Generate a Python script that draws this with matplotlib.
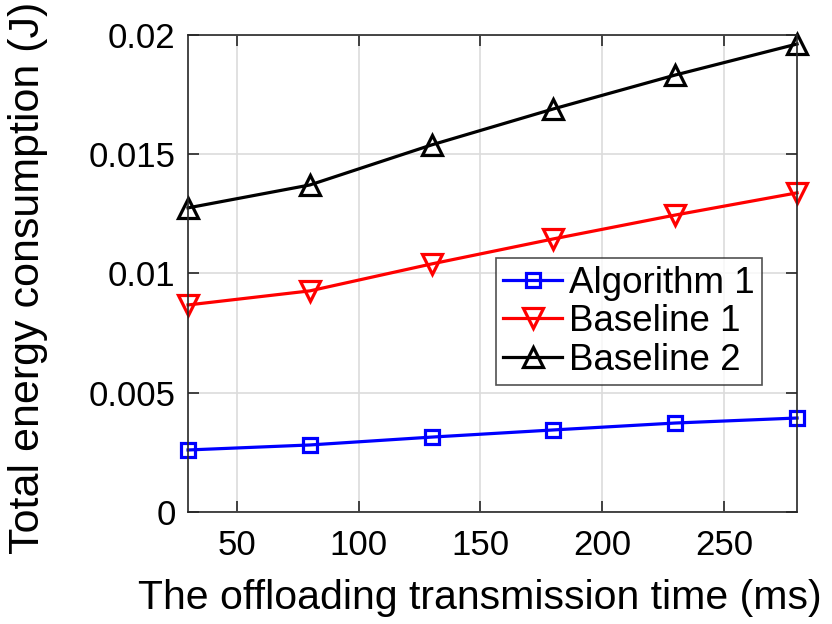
import matplotlib
matplotlib.use('Agg')
import matplotlib.pyplot as plt

plt.rcParams['font.family'] = ['Liberation Sans', 'DejaVu Sans']

x = [30, 80, 130, 180, 230, 280]
alg1 = [0.00260, 0.00281, 0.00314, 0.00344, 0.00373, 0.00394]
base1 = [0.00868, 0.00927, 0.01040, 0.01145, 0.01245, 0.01338]
base2 = [0.01275, 0.01371, 0.01539, 0.01690, 0.01832, 0.01962]

fig = plt.figure(figsize=(8.32, 6.24), dpi=100)
ax = fig.add_axes([0.226, 0.1795, 0.732, 0.7645])

style = dict(markerfacecolor='none', markeredgewidth=2.3, linewidth=2.3, clip_on=False)
ax.plot(x, alg1, color='#0000ff', marker='s', markersize=10.5, label='Algorithm 1', **style)
ax.plot(x, base1, color='#ff0000', marker='v', markersize=15, label='Baseline 1', **style)
ax.plot(x, base2, color='black', marker='^', markersize=15, label='Baseline 2', **style)

ax.set_xlim(30, 280)
ax.set_ylim(0, 0.02)
ax.set_xticks([50, 100, 150, 200, 250])
ax.set_yticks([0, 0.005, 0.01, 0.015, 0.02])
ax.set_yticklabels(['0', '0.005', '0.01', '0.015', '0.02'])
ax.tick_params(direction='in', top=True, right=True, labelsize=25, length=8, width=1.2,
               colors='#262626', labelcolor='black', pad=9)
ax.tick_params(axis='x', pad=12)
ax.grid(True, color='#dcdcdc', linewidth=1.2)
ax.set_axisbelow(True)
for s in ax.spines.values():
    s.set_linewidth(1.2)
    s.set_color('#262626')

ax.set_xlabel('The offloading transmission time (ms)', fontsize=29.5)
ax.xaxis.set_label_coords(0.479, -0.14)
ax.set_ylabel('Total energy consumption (J)', fontsize=31)
ax.yaxis.set_label_coords(-0.23, 0.49)

leg = ax.legend(loc='upper right', bbox_to_anchor=(0.943, 0.532), fontsize=26.5, frameon=True,
                fancybox=False, edgecolor='#262626', handlelength=1.6, handletextpad=0.2,
                labelspacing=0.1, borderpad=0.2, borderaxespad=0)
leg.get_frame().set_linewidth(1.2)

fig.savefig('out.png', dpi=100)
